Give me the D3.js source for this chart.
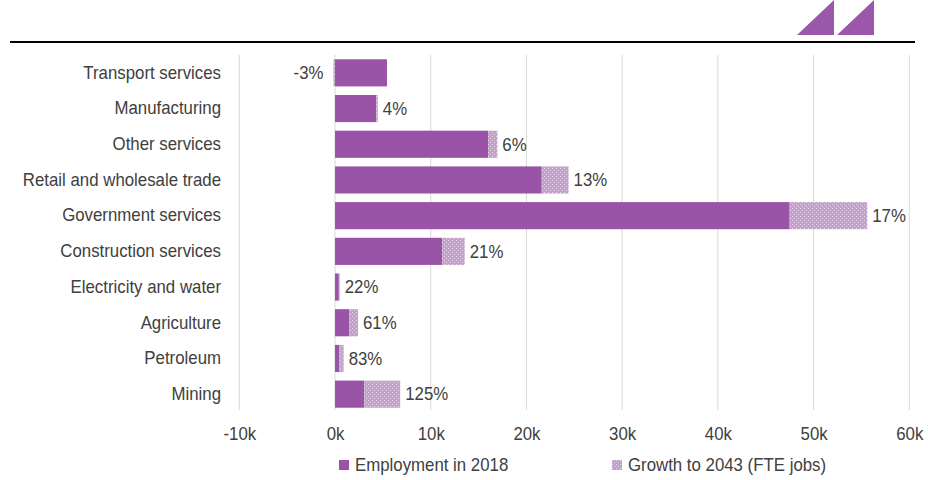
<!DOCTYPE html>
<html><head><meta charset="utf-8">
<script src="https://cdn.jsdelivr.net/npm/d3@7"></script>
<style>body{margin:0;background:#fff}svg{display:block}</style>
</head><body>
<svg id="chart" width="928" height="480"></svg>
<script>
const categories = ["Transport services","Manufacturing","Other services","Retail and wholesale trade","Government services","Construction services","Electricity and water","Agriculture","Petroleum","Mining"];
const employment2018 = [5430, 4300, 16000, 21600, 47500, 11200, 400, 1500, 450, 3050];
const growth2043 = [-160, 170, 960, 2800, 8100, 2350, 90, 900, 450, 3760];
const growthLabels = ["-3%","4%","6%","13%","17%","21%","22%","61%","83%","125%"];
const xTicks = [-10000,0,10000,20000,30000,40000,50000,60000];
const legendLabels = ["Employment in 2018","Growth to 2043 (FTE jobs)"];

const font = "'Liberation Sans',Arial,sans-serif";
const textColor = "#404040";
const barColor = "#9954a7";
const sx = 0.935;
const svg = d3.select("#chart");

const defs = svg.append("defs");
const pat = defs.append("pattern").attr("id","dots").attr("patternUnits","userSpaceOnUse").attr("width",4).attr("height",4);
pat.append("rect").attr("width",4).attr("height",4).attr("fill","#c4a0cc");
pat.append("rect").attr("x",0).attr("y",0).attr("width",1).attr("height",1).attr("fill","#e6d5e9");
pat.append("rect").attr("x",2).attr("y",2).attr("width",1).attr("height",1).attr("fill","#e6d5e9");

const x = d3.scaleLinear().domain([-10000,60000]).range([239.3,909.3]);
const y = d3.scaleBand().domain(categories).range([55,412]).paddingInner(0.24).paddingOuter(0.12);

// header
svg.append("line").attr("x1",10).attr("x2",915).attr("y1",42).attr("y2",42).attr("stroke","#000").attr("stroke-width",2);
[[797,834],[837,874]].forEach(([a,b])=>{
  svg.append("path").attr("d",`M${a},35L${b},35L${b},0Z`).attr("fill","#9b57a9");
});

// gridlines
svg.append("g").selectAll("line").data(xTicks).join("line")
  .attr("x1",d=>x(d)).attr("x2",d=>x(d)).attr("y1",55).attr("y2",410)
  .attr("stroke","#d9d9d9").attr("stroke-width",1);

// x axis
const xAxis = d3.axisBottom(x).tickValues(xTicks).tickSize(0).tickPadding(0).tickFormat(d=>(d/1000)+"k");
const gx = svg.append("g").attr("transform","translate(0,426)").call(xAxis);
gx.select(".domain").remove();
gx.selectAll("text").attr("font-family",font).attr("font-size",18).attr("fill",textColor).attr("dy","0.75em").attr("transform",`scale(${sx},1)`);

// y axis labels
const yAxis = d3.axisLeft(y).tickSize(0).tickPadding(0);
const gy = svg.append("g").attr("transform","translate(221,0)").call(yAxis);
gy.select(".domain").remove();
gy.selectAll("text").attr("font-family",font).attr("font-size",18).attr("fill",textColor).attr("transform",`scale(${sx},1)`);

// bars
const rows = categories.map((c,i)=>({c,e:employment2018[i],g:growth2043[i],l:growthLabels[i]}));
svg.append("g").selectAll("rect").data(rows).join("rect")
  .attr("x",d=>x(0)).attr("width",d=>x(d.e)-x(0))
  .attr("y",d=>y(d.c)).attr("height",y.bandwidth()).attr("fill",barColor);
svg.append("g").selectAll("rect").data(rows).join("rect")
  .attr("x",d=>d.g>=0?x(d.e):x(d.g)).attr("width",d=>Math.abs(x(d.g)-x(0)))
  .attr("y",d=>y(d.c)).attr("height",y.bandwidth()).attr("fill","url(#dots)");
// labels
svg.append("g").selectAll("g").data(rows).join("g")
  .attr("transform",d=>`translate(${d.g>=0?x(d.e+d.g)+5:x(d.g)-10},${y(d.c)+y.bandwidth()/2}) scale(${sx},1)`)
  .append("text")
  .attr("text-anchor",d=>d.g>=0?"start":"end")
  .attr("dy","0.35em")
  .attr("font-family",font).attr("font-size",18).attr("fill",textColor)
  .text(d=>d.l);

// legend
const leg = svg.append("g");
leg.append("rect").attr("x",339).attr("y",460).attr("width",10).attr("height",10).attr("fill",barColor);
leg.append("text").attr("transform",`translate(355,465) scale(${sx},1)`).attr("dy","0.35em").attr("font-family",font).attr("font-size",18).attr("fill",textColor).text(legendLabels[0]);
leg.append("rect").attr("x",612).attr("y",460).attr("width",10).attr("height",10).attr("fill","url(#dots)");
leg.append("text").attr("transform",`translate(628,465) scale(${sx},1)`).attr("dy","0.35em").attr("font-family",font).attr("font-size",18).attr("fill",textColor).text(legendLabels[1]);
</script>
</body></html>
